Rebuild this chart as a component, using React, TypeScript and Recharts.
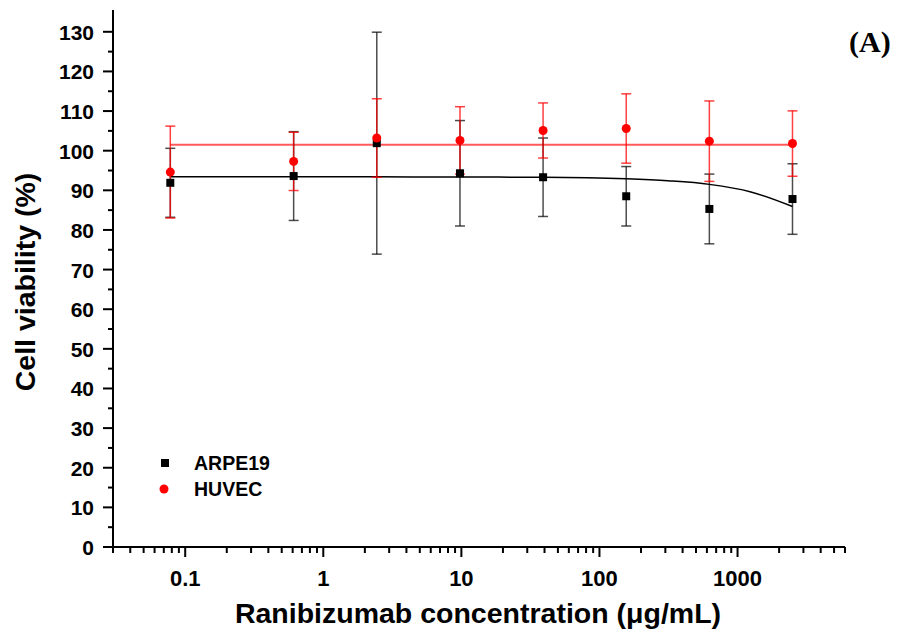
import { ComposedChart, Scatter, Line, XAxis, YAxis, ErrorBar } from "recharts"

// concentrations in µg/mL
const concentrations = [0.078, 0.61, 2.44, 9.77, 39.06, 156.25, 625, 2500]

const arpeMean = [91.9, 93.6, 101.9, 94.3, 93.3, 88.5, 85.3, 87.8]
const arpeSd = [8.7, 11.2, 28.0, 13.3, 9.9, 7.5, 8.8, 8.9]

const huvecMean = [94.6, 97.3, 103.2, 102.6, 105.1, 105.6, 102.4, 101.8]
const huvecSd = [11.6, 7.35, 9.9, 8.5, 6.95, 8.75, 10.15, 8.25]

// fitted curves
const arpeFitX = [0.078, 0.61, 2.44, 9.77, 39.06, 156.25, 312, 625, 1250, 2500]
const arpeFitY = [93.4, 93.4, 93.4, 93.35, 93.3, 92.9, 92.4, 91.5, 89.6, 85.9]
const huvecFitX = [0.078, 2500]
const huvecFitY = [101.5, 101.5]

const xMajor = [0.1, 1, 10, 100, 1000]
const xTicks = [
  0.03, 0.04, 0.05, 0.06, 0.07, 0.08, 0.09, 0.1,
  0.2, 0.3, 0.4, 0.5, 0.6, 0.7, 0.8, 0.9, 1,
  2, 3, 4, 5, 6, 7, 8, 9, 10,
  20, 30, 40, 50, 60, 70, 80, 90, 100,
  200, 300, 400, 500, 600, 700, 800, 900, 1000,
  2000, 3000, 4000, 5000, 6000
]
const yTicks = [
  0, 5, 10, 15, 20, 25, 30, 35, 40, 45, 50, 55, 60, 65,
  70, 75, 80, 85, 90, 95, 100, 105, 110, 115, 120, 125, 130
]

const arpeData = concentrations.map((x, i) => ({ x, y: arpeMean[i], sd: arpeSd[i] }))
const huvecData = concentrations.map((x, i) => ({ x, y: huvecMean[i], sd: huvecSd[i] }))
const arpeFit = arpeFitX.map((x, i) => ({ x, y: arpeFitY[i] }))
const huvecFit = huvecFitX.map((x, i) => ({ x, y: huvecFitY[i] }))

const FONT = "'Liberation Sans', Arial, sans-serif"

const XTick = (props: any) => {
  const { x, y, payload } = props
  const major = xMajor.includes(payload.value)
  return (
    <g>
      <line x1={x} y1={y} x2={x} y2={y + (major ? 10 : 6)} stroke="#000" strokeWidth={2} />
      {major && (
        <text x={x} y={y + 39} textAnchor="middle" fontFamily={FONT} fontWeight="bold" fontSize={22} fill="#000">
          {String(payload.value)}
        </text>
      )}
    </g>
  )
}

const YTick = (props: any) => {
  const { x, y, payload } = props
  const major = payload.value % 10 === 0
  return (
    <g>
      <line x1={x - (major ? 10 : 5)} y1={y} x2={x} y2={y} stroke="#000" strokeWidth={2} />
      {major && (
        <text x={x - 19} y={y + 8} textAnchor="end" fontFamily={FONT} fontWeight="bold" fontSize={21} fill="#000">
          {payload.value}
        </text>
      )}
    </g>
  )
}

const Square = (p: any) => <rect x={p.cx - 4} y={p.cy - 4} width={8} height={8} fill="#000" />
const Dot = (p: any) => <circle cx={p.cx} cy={p.cy} r={4.5} fill="#ff0000" />

export default function App() {
  return (
    <div style={{ position: "absolute", left: 0, top: 0, width: 904, height: 635, background: "#fff" }}>
      <ComposedChart width={904} height={635} margin={{ top: 10, right: 59, bottom: 0, left: 13 }}>
        <XAxis
          type="number"
          dataKey="x"
          scale="log"
          domain={[0.03, 6000]}
          ticks={xTicks}
          interval={0}
          height={88}
          tick={XTick}
          tickLine={false}
          tickSize={0}
          tickMargin={0}
          axisLine={{ stroke: "#000", strokeWidth: 2 }}
          allowDataOverflow
        />
        <YAxis
          type="number"
          dataKey="y"
          domain={[0, 135.5]}
          ticks={yTicks}
          interval={0}
          width={100}
          tick={YTick}
          tickLine={false}
          tickSize={0}
          tickMargin={0}
          axisLine={{ stroke: "#000", strokeWidth: 2 }}
          allowDataOverflow
        />
        <Line data={huvecFit} dataKey="y" stroke="#ff0000" strokeOpacity={0.65} strokeWidth={2} dot={false} isAnimationActive={false} />
        <Line data={arpeFit} dataKey="y" type="monotone" stroke="#000" strokeWidth={1.5} dot={false} isAnimationActive={false} />
        <Scatter data={arpeData} dataKey="y" shape={Square} isAnimationActive={false}>
          <ErrorBar dataKey="sd" direction="y" width={5} stroke="#000" strokeOpacity={0.7} strokeWidth={1.5} />
        </Scatter>
        <Scatter data={huvecData} dataKey="y" shape={Dot} isAnimationActive={false}>
          <ErrorBar dataKey="sd" direction="y" width={5} stroke="#ff0000" strokeOpacity={0.75} strokeWidth={1.5} />
        </Scatter>
      </ComposedChart>
      <svg width={904} height={635} style={{ position: "absolute", left: 0, top: 0, pointerEvents: "none" }}>
        <text x={478} y={623} textAnchor="middle" fontFamily={FONT} fontWeight="bold" fontSize={28.5} fill="#000">
          Ranibizumab concentration (μg/mL)
        </text>
        <text transform="translate(35,282) rotate(-90)" textAnchor="middle" fontFamily={FONT} fontWeight="bold" fontSize={28.5} fill="#000">
          Cell viability (%)
        </text>
        <rect x={161} y={459} width={8} height={8} fill="#000" />
        <text x={194} y={470} fontFamily={FONT} fontWeight="bold" fontSize={19.5} fill="#000">ARPE19</text>
        <circle cx={164} cy={489} r={4.5} fill="#ff0000" />
        <text x={194} y={496} fontFamily={FONT} fontWeight="bold" fontSize={19.5} fill="#000">HUVEC</text>
        <text x={849} y={52} fontFamily="'Liberation Serif', 'Times New Roman', serif" fontWeight="bold" fontSize={30} fill="#000">(A)</text>
      </svg>
    </div>
  )
}
